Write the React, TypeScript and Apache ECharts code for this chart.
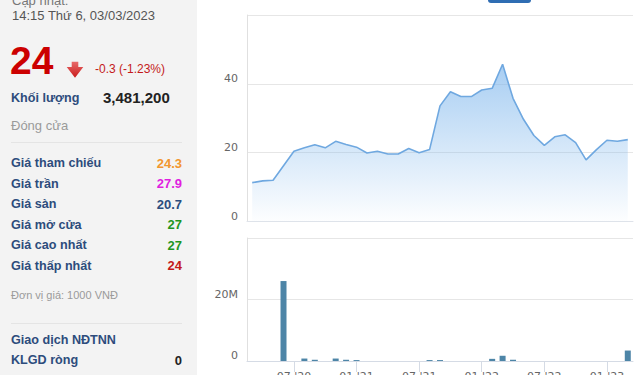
import React, { useEffect, useRef } from 'react';
import * as echarts from 'echarts';

const months = [
  "03 '20", "04 '20", "05 '20", "06 '20", "07 '20", "08 '20", "09 '20", "10 '20", "11 '20", "12 '20",
  "01 '21", "02 '21", "03 '21", "04 '21", "05 '21", "06 '21", "07 '21", "08 '21", "09 '21", "10 '21", "11 '21", "12 '21",
  "01 '22", "02 '22", "03 '22", "04 '22", "05 '22", "06 '22", "07 '22", "08 '22", "09 '22", "10 '22", "11 '22", "12 '22",
  "01 '23", "02 '23", "03 '23",
];

const prices = [
  11.3, 11.8, 12.0, 16.2, 20.4, 21.4, 22.3, 21.4, 23.3, 22.4,
  21.6, 19.9, 20.4, 19.6, 19.6, 21.2, 20.0, 20.9, 33.6, 37.7, 36.3, 36.3,
  38.2, 38.7, 45.7, 35.8, 29.7, 25.0, 22.1, 24.6, 25.2, 22.9, 17.9, 20.9,
  23.6, 23.3, 23.8,
];

const volumes = [
  0, 0, 0, 26000000, 0, 800000, 400000, 0, 800000, 400000,
  300000, 0, 0, 0, 0, 0, 0, 300000, 300000, 0, 0, 0,
  0, 700000, 1700000, 400000, 0, 0, 0, 0, 0, 0, 0, 0,
  0, 0, 3400000,
];

const updateLabel = 'Cập nhật:';
const updateTime = '14:15 Thứ 6, 03/03/2023';
const lastPrice = '24';
const priceChange = '-0.3 (-1.23%)';
const volumeLabel = 'Khối lượng';
const volumeValue = '3,481,200';
const closeLabel = 'Đóng cửa';
const statLabels = ['Giá tham chiếu', 'Giá trần', 'Giá sàn', 'Giá mở cửa', 'Giá cao nhất', 'Giá thấp nhất'];
const statValues = ['24.3', '27.9', '20.7', '27', '27', '24'];
const unitNote = 'Đơn vị giá: 1000 VNĐ';
const foreignLabels = ['Giao dịch NĐTNN', 'KLGD ròng'];
const foreignValues = ['', '0'];

const statColors = ['#f2962f', '#e01ee0', '#2b4d7e', '#1f961f', '#1f961f', '#c41a1a'];
const PF = '"Liberation Sans", Arial, sans-serif';
const AF = '"DejaVu Sans", sans-serif';
const NAVY = '#2d4c7c';

function txt(text: string, x: number, y: number, size: number, color: string, weight = 'normal', align = 'left') {
  return {
    type: 'text',
    x,
    y,
    style: {
      text,
      fill: color,
      font: `${weight} ${size}px ${PF}`,
      align,
      verticalAlign: 'middle',
      textAlign: align,
      textVerticalAlign: 'middle',
    },
  };
}

const isMajor = (_i: number, v: string) => v.startsWith('01') || v.startsWith('07');

export default function App() {
  const ref = useRef<HTMLDivElement>(null);

  useEffect(() => {
    if (!ref.current) return;
    const chart = echarts.init(ref.current, undefined, { renderer: 'svg' });

    const graphics: any[] = [
      { type: 'rect', z: -10, shape: { x: 0, y: 0, width: 197, height: 375 }, style: { fill: '#f3f3f3' } },
      { type: 'rect', shape: { x: 488, y: -10, width: 43, height: 13, r: 3 }, style: { fill: '#2f6db3' } },
      txt(updateLabel, 12, 0.5, 13, '#777'),
      txt(updateTime, 12, 15.5, 13, '#555'),
      txt(lastPrice, 10, 60, 39, '#cc0000', 'bold'),
      {
        type: 'polygon',
        shape: { points: [[71.7, 61.7], [78.3, 61.7], [78.3, 67], [83.3, 67], [75, 77.7], [66.7, 67], [71.7, 67]] },
        style: {
          fill: new echarts.graphic.LinearGradient(0, 0, 0, 1, [
            { offset: 0, color: '#e86a6a' },
            { offset: 1, color: '#c91b1b' },
          ]),
        },
      },
      txt(priceChange, 95, 68.5, 12, '#c41a1a'),
      txt(volumeLabel, 11, 98, 12.6, NAVY, 'bold'),
      txt(volumeValue, 103, 97.5, 15, '#222', 'bold'),
      txt(closeLabel, 11, 125, 13, '#9a9a9a'),
      { type: 'line', shape: { x1: 11, y1: 142.5, x2: 182, y2: 142.5 }, style: { stroke: '#e4e4e4', lineWidth: 1 } },
      txt(unitNote, 11, 295, 11, '#9a9a9a'),
      { type: 'line', shape: { x1: 11, y1: 323.5, x2: 182, y2: 323.5 }, style: { stroke: '#e4e4e4', lineWidth: 1 } },
    ];
    const rowY = [163.3, 183.8, 204.3, 224.8, 245.3, 265.8];
    statLabels.forEach((l, i) => {
      graphics.push(txt(l, 11, rowY[i], 12.6, NAVY, 'bold'));
      graphics.push(txt(statValues[i], 182, rowY[i], 13, statColors[i], 'bold', 'right'));
    });
    const fy = [339.5, 360];
    foreignLabels.forEach((l, i) => {
      graphics.push(txt(l, 11, fy[i], 12.6, NAVY, 'bold'));
      if (foreignValues[i]) graphics.push(txt(foreignValues[i], 182, fy[i], 13, '#222', 'bold', 'right'));
    });

    const axisLabelStyle = { color: '#666', fontFamily: AF, fontSize: 11 };

    chart.setOption({
      animation: false,
      backgroundColor: '#ffffff',
      grid: [
        { left: 247, right: 7, top: 15, height: 206.5, containLabel: false, outerBoundsMode: 'none' },
        { left: 247, right: 7, top: 238, height: 123, containLabel: false, outerBoundsMode: 'none' },
      ],
      xAxis: [
        {
          type: 'category',
          gridIndex: 0,
          data: months,
          boundaryGap: true,
          axisLine: { show: true, lineStyle: { color: '#dfe3ea' } },
          axisTick: { show: false },
          axisLabel: { show: false },
        },
        {
          type: 'category',
          gridIndex: 1,
          data: months,
          boundaryGap: true,
          axisLine: { show: true, lineStyle: { color: '#d5dbe5' } },
          axisTick: { show: true, alignWithLabel: true, interval: isMajor, length: 11, lineStyle: { color: '#d5dbe5' } },
          axisLabel: { ...axisLabelStyle, interval: isMajor, margin: 10 },
        },
      ],
      yAxis: [
        {
          type: 'value',
          gridIndex: 0,
          min: 0,
          max: 60,
          interval: 20,
          axisLine: { show: true, lineStyle: { color: '#e0e0e0' } },
          axisTick: { show: false },
          splitLine: { lineStyle: { color: '#e6e6e6' } },
          axisLabel: { ...axisLabelStyle, showMaxLabel: false, verticalAlign: 'bottom', margin: 9 },
        },
        {
          type: 'value',
          gridIndex: 1,
          min: 0,
          max: 40000000,
          interval: 20000000,
          axisLine: { show: true, lineStyle: { color: '#e0e0e0' } },
          axisTick: { show: false },
          splitLine: { lineStyle: { color: '#e6e6e6' } },
          axisLabel: {
            ...axisLabelStyle,
            showMaxLabel: false,
            verticalAlign: 'bottom',
            margin: 9,
            formatter: (v: number) => (v === 0 ? '0' : `${v / 1000000}M`),
          },
        },
      ],
      series: [
        {
          type: 'line',
          xAxisIndex: 0,
          yAxisIndex: 0,
          data: prices,
          symbol: 'none',
          lineStyle: { color: '#6fa8e0', width: 1.6 },
          areaStyle: {
            color: new echarts.graphic.LinearGradient(0, 0, 0, 1, [
              { offset: 0, color: 'rgba(124,181,236,0.95)' },
              { offset: 1, color: 'rgba(124,181,236,0.02)' },
            ]),
          },
        },
        {
          type: 'bar',
          xAxisIndex: 1,
          yAxisIndex: 1,
          data: volumes,
          barWidth: 6,
          itemStyle: { color: '#4d85a7' },
        },
      ],
      graphic: graphics,
    });

    return () => chart.dispose();
  }, []);

  return (
    <div style={{ position: 'fixed', left: 0, top: 0, width: 640, height: 375, overflow: 'hidden' }}>
      <div ref={ref} style={{ width: 640, height: 375 }} />
    </div>
  );
}
